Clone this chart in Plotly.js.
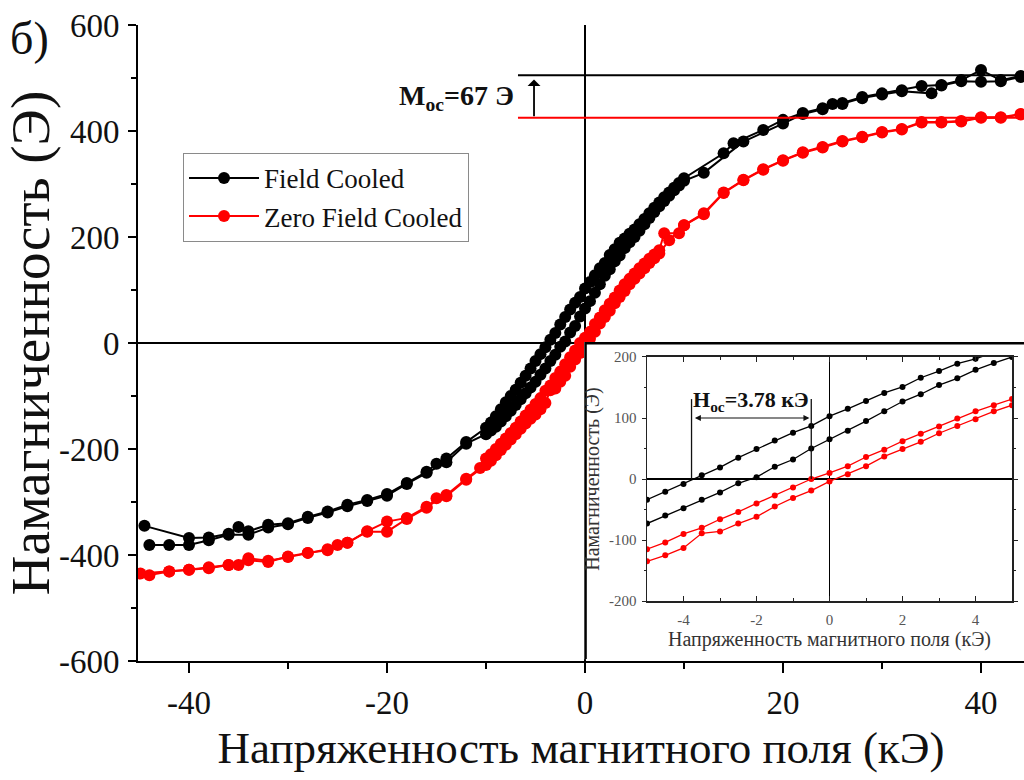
<!DOCTYPE html>
<html>
<head>
<meta charset="utf-8">
<script src="https://cdn.plot.ly/plotly-3.0.1.min.js"></script>
<style>html,body{margin:0;padding:0;overflow:hidden;background:#fff;}#chart{width:1024px;height:780px;}</style>
</head>
<body>
<div id="chart"></div>
<script>
// ---------- Main plot data (field kOe, magnetization) ----------
const fcUpperX = [-44.5,-40,-38,-36,-35,-34,-32,-30,-28,-26,-24,-22,-20,-18,-16,-15,-14,-12,
  -10,-9.5,-9,-8.5,-8,-7.5,-7,-6.5,-6,-5.5,-5,-4.5,-4,-3.5,-3,-2.5,-2,-1.5,-1,-0.5,0,
  0.5,1,1.5,2,2.5,3,3.5,4,4.5,5,5.5,6,6.5,7,7.5,8,8.5,9,9.5,10,
  14,15,18,20,22,24,25,26,28,30,32,34,36,38,40,42,44];
const fcUpperY = [-345,-368,-367,-360,-347,-355,-343,-340,-328,-318,-305,-296,-285,-264,-243,-228,-218,-187,
  -160,-150,-138,-125,-112,-100,-88,-75,-62,-48,-34,-21,-8,6,19,35,49,63,76,87,103,
  115,128,141,151,166,177,189,197,206,214,224,234,245,255,265,275,284,293,302,311,
  358,377,402,421,434,443,451,453,464,471,477,485,487,496,515,496,504];

const fcLowerX = [-44,-42,-40,-38,-36,-34,-32,-30,-28,-26,-24,-22,-20,-18,-16,-14,-12,
  -10,-9.5,-9,-8.5,-8,-7.5,-7,-6.5,-6,-5.5,-5,-4.5,-4,-3.5,-3,-2.5,-2,-1.5,-1,-0.5,0,
  0.5,1,1.5,2,2.5,3,3.5,4,4.5,5,5.5,6,6.5,7,7.5,8,8.5,9,9.5,10,
  12,16,20,22,24,26,28,30,32,35,36,38,40,42,44];
const fcLowerY = [-381,-381,-381,-372,-362,-362,-348,-342,-330,-320,-308,-298,-288,-266,-245,-225,-190,
  -172,-165,-158,-148,-138,-128,-117,-106,-95,-84,-73,-60,-48,-34,-22,-7,3,20,32,50,65,
  79,95,111,127,139,154,165,179,190,200,212,224,236,247,258,268,278,288,297,306,
  321,380,414,432,441,451,462,469,475,471,486,494,493,494,502];

const zfcUpperX = [-44.9,-42,-40,-38,-36,-34,-32,-30,-28,-26,-24,-22,-20,-18,-16,-14,-12,-10.6,
  -10,-9.5,-9,-8.5,-8,-7.5,-7,-6.5,-6,-5.5,-5,-4.5,-4,-3.5,-3,-2.5,-2,-1.5,-1,-0.5,0,
  0.5,1,1.5,2,2.5,3,3.5,4,4.5,5,5.5,6,6.5,7,7.5,
  8,9.5,10,12,14,16,18,20,22,24,26,28,30,32,34,36,38,40,42,44];
const zfcUpperY = [-435,-431,-428,-423,-419,-406,-411,-404,-396,-389,-377,-355,-337,-330,-309,-287,-256,-236,
  -218,-210,-200,-190,-180,-170,-160,-148,-137,-126,-115,-104,-90,-80,-66,-54,-40,-27,-14,0,10,
  21,36,48,62,74,86,99,111,121,131,141,150,159,167,175,
  207,207,222,245,284,308,328,345,360,370,381,389,398,404,417,417,419,426,426,432];

const zfcLowerX = [-44,-42,-40,-38,-36,-35,-34,-32,-30,-28,-26,-25,-24,-22,-20,-18,-16,-15,-14,-12,
  -10,-9.5,-9,-8.5,-8,-7.5,-7,-6.5,-6,-5.5,-5,-4.5,-4,-3.5,-3,-2.5,-2,-1.5,-1,-0.5,0,
  0.5,1,1.5,2,2.5,3,3.5,4,4.5,5,5.5,6,6.5,7,7.5,
  8.5,10,12,14,16,18,20,22,24,26,28,30,32,34,36,38,40,42,44];
const zfcLowerY = [-438,-431,-428,-425,-419,-419,-410,-413,-403,-396,-391,-381,-377,-356,-356,-332,-311,-293,-289,-258,
  -230,-222,-212,-202,-192,-182,-172,-162,-152,-143,-135,-125,-113,-89,-86,-73,-62,-45,-31,-19,-4,
  8,21,37,49,61,75,87,98,111,121,131,141,151,160,169,
  194,222,243,283,307,327,344,359,369,380,388,397,403,416,416,418,425,425,431];

// ---------- Inset data ----------
const insetX = [-5,-4.5,-4,-3.5,-3,-2.5,-2,-1.5,-1,-0.5,0,0.5,1,1.5,2,2.5,3,3.5,4,4.5,5];
const insetFcUpper  = [-34,-21,-8,6,19,35,49,63,76,87,103,115,128,141,151,166,177,189,197,208,218];
const insetFcLower  = [-73,-60,-48,-34,-22,-7,3,20,32,50,65,79,95,111,127,139,154,165,179,190,200];
const insetZfcUpper = [-115,-104,-90,-80,-66,-54,-40,-27,-14,0,10,21,36,48,62,74,86,99,111,121,131];
const insetZfcLower = [-135,-125,-113,-89,-86,-73,-62,-45,-31,-19,-4,8,21,37,49,61,75,87,98,111,121];

// ---------- Tick labels ----------
const mainXTicks = [-40, -20, 0, 20, 40];
const mainXTickText = ['-40', '-20', '0', '20', '40'];
const mainYTicks = [-600, -400, -200, 0, 200, 400, 600];
const mainYTickText = ['-600', '-400', '-200', '0', '200', '400', '600'];
const insetXTicks = [-4, -2, 0, 2, 4];
const insetXTickText = ['-4', '-2', '0', '2', '4'];
const insetYTicks = [-200, -100, 0, 100, 200];
const insetYTickText = ['-200', '-100', '0', '100', '200'];

// ---------- Annotation values ----------
const mFC = 505, mZFC = 425, mocLabel = 'M<sub>oc</sub>=67 Э';
const hLeft = -3.78, hRight = -0.5, hTop = 131, hArrowY = 100, hocLabel = 'H<sub>oc</sub>=3.78 кЭ';
const legendNames = ['Field Cooled', 'Zero Field Cooled'];

const BLACK = '#000000', RED = '#ff0000';
const serif = 'Liberation Serif, Times New Roman, serif';

function mainTrace(x, y, color, name, show) {
  return {x, y, type: 'scatter', mode: 'lines+markers', name, showlegend: show,
    legendgroup: name, xaxis: 'x', yaxis: 'y',
    line: {color, width: 2}, marker: {color, size: 12}, hoverinfo: 'skip'};
}
function insetTrace(y, color) {
  return {x: insetX, y, type: 'scatter', mode: 'lines+markers', showlegend: false,
    xaxis: 'x3', yaxis: 'y3', line: {color, width: 1.3}, marker: {color, size: 6}, hoverinfo: 'skip'};
}

const traces = [
  mainTrace(fcUpperX, fcUpperY, BLACK, legendNames[0], true),
  mainTrace(fcLowerX, fcLowerY, BLACK, legendNames[0], false),
  mainTrace(zfcUpperX, zfcUpperY, RED, legendNames[1], true),
  mainTrace(zfcLowerX, zfcLowerY, RED, legendNames[1], false),
  // white inset panel (subplot x2/y2 sits above main traces)
  {x: [0.35, 130, 130, 0.35, 0.35], y: [-10, -10, 99.6, 99.6, -10], type: 'scatter', mode: 'lines',
   fill: 'toself', fillcolor: '#ffffff', line: {color: BLACK, width: 2.5}, xaxis: 'x2', yaxis: 'y2',
   showlegend: false, hoverinfo: 'skip'},
  insetTrace(insetFcUpper, BLACK),
  insetTrace(insetFcLower, BLACK),
  insetTrace(insetZfcUpper, RED),
  insetTrace(insetZfcLower, RED)
];

const layout = {
  width: 1024, height: 780,
  margin: {l: 138, r: 0, t: 25, b: 119},
  paper_bgcolor: '#ffffff', plot_bgcolor: '#ffffff',
  font: {family: serif, color: BLACK},
  showlegend: true,
  legend: {x: 0.0508, y: 0.799, xanchor: 'left', yanchor: 'top', bgcolor: '#ffffff',
    bordercolor: '#8a8a8a', borderwidth: 1, font: {family: serif, size: 27, color: '#111'},
    itemwidth: 70, tracegroupgap: 0},
  xaxis: {range: [-45.15, 44.34], domain: [0, 1], anchor: 'y', showgrid: false,
    zeroline: true, zerolinecolor: BLACK, zerolinewidth: 1.5,
    showline: true, linecolor: BLACK, linewidth: 2,
    ticks: 'outside', ticklen: 10, tickwidth: 2, tickcolor: BLACK,
    tickmode: 'array', tickvals: mainXTicks, ticktext: mainXTickText,
    minor: {dtick: 10, tick0: 0, ticks: 'outside', ticklen: 6, tickwidth: 2, tickcolor: BLACK},
    tickfont: {family: serif, size: 33, color: '#111'}, ticklabelstandoff: 1,
    title: {text: 'Напряженность магнитного поля (кЭ)', font: {family: serif, size: 45, color: '#111'}, standoff: 12},
    automargin: false},
  yaxis: {range: [-600, 600], domain: [0, 1], anchor: 'x', showgrid: false,
    zeroline: true, zerolinecolor: BLACK, zerolinewidth: 1.5,
    showline: true, linecolor: BLACK, linewidth: 2,
    ticks: 'outside', ticklen: 8, tickwidth: 2, tickcolor: BLACK,
    tickmode: 'array', tickvals: mainYTicks, ticktext: mainYTickText,
    minor: {dtick: 100, tick0: 0, ticks: 'outside', ticklen: 5, tickwidth: 2, tickcolor: BLACK},
    tickfont: {family: serif, size: 33, color: '#111'}, ticklabelstandoff: 2,
    title: {text: 'Намагниченность (Э)', font: {family: serif, size: 55, color: '#111'}, standoff: 4},
    automargin: false},
  // white panel subplot
  xaxis2: {domain: [0.5034, 1], range: [0, 100], anchor: 'y2', visible: false, fixedrange: true},
  yaxis2: {domain: [0.003, 0.5016], range: [0, 100], anchor: 'x2', visible: false, fixedrange: true},
  // inset subplot
  xaxis3: {domain: [0.5745, 0.9865], range: [-5, 5], anchor: 'y3', showgrid: false,
    zeroline: true, zerolinecolor: BLACK, zerolinewidth: 1.5,
    showline: true, mirror: 'allticks', linecolor: '#222', linewidth: 1.5,
    ticks: 'inside', ticklen: 5, tickcolor: '#222',
    tickmode: 'array', tickvals: insetXTicks, ticktext: insetXTickText,
    minor: {dtick: 1, tick0: 0, ticks: 'inside', ticklen: 3, tickcolor: '#222'},
    tickfont: {family: serif, size: 15, color: '#555'}, ticklabelstandoff: 4,
    title: {text: 'Напряженность магнитного поля (кЭ)', font: {family: serif, size: 20, color: '#333'}, standoff: 4}},
  yaxis3: {domain: [0.0943, 0.478], range: [-200, 200], anchor: 'x3', showgrid: false,
    zeroline: true, zerolinecolor: BLACK, zerolinewidth: 1.5,
    showline: true, mirror: 'allticks', linecolor: '#222', linewidth: 1.5,
    ticks: 'outside', ticklen: 4, tickcolor: '#222',
    tickmode: 'array', tickvals: insetYTicks, ticktext: insetYTickText,
    minor: {dtick: 50, tick0: 0, ticks: 'outside', ticklen: 2, tickcolor: '#222'},
    tickfont: {family: serif, size: 15, color: '#555'}, ticklabelstandoff: 2,
    title: {text: 'Намагниченность (Э)', font: {family: serif, size: 20, color: '#333'}, standoff: 4}},
  shapes: [
    {type: 'line', xref: 'x', yref: 'y', x0: -6.77, x1: 60, y0: mFC, y1: mFC, line: {color: BLACK, width: 2}},
    {type: 'line', xref: 'x', yref: 'y', x0: -6.77, x1: 60, y0: mZFC, y1: mZFC, line: {color: RED, width: 2}},
    {type: 'line', xref: 'x3', yref: 'y3', x0: hLeft, x1: hLeft, y0: 0, y1: hTop, line: {color: '#111', width: 1.3}},
    {type: 'line', xref: 'x3', yref: 'y3', x0: hRight, x1: hRight, y0: 0, y1: hTop, line: {color: '#111', width: 1.3}}
  ],
  annotations: [
    {xref: 'paper', yref: 'paper', x: -0.122, y: 0.978, text: 'б)', showarrow: false,
      xanchor: 'center', yanchor: 'middle', font: {family: serif, size: 46, color: '#111'}},
    {xref: 'x', yref: 'y', x: -5.15, y: mFC - 8, ax: -5.15, ay: mZFC, axref: 'x', ayref: 'y',
      text: '', showarrow: true, arrowhead: 1, arrowsize: 1.2, arrowwidth: 1.8, arrowcolor: BLACK},
    {xref: 'x', yref: 'y', x: -7.0, y: 464, text: '<b>' + mocLabel + '</b>', showarrow: false,
      xanchor: 'right', yanchor: 'middle', font: {family: serif, size: 28, color: '#111'}},
    {xref: 'x3', yref: 'y3', x: hRight - 0.05, y: hArrowY, ax: hLeft + 0.05, ay: hArrowY, axref: 'x3', ayref: 'y3',
      text: '', showarrow: true, arrowhead: 2, arrowside: 'end+start', arrowsize: 1, arrowwidth: 1.2, arrowcolor: '#111'},
    {xref: 'x3', yref: 'y3', x: (hLeft + hRight) / 2, y: 128, text: '<b>' + hocLabel + '</b>', showarrow: false,
      xanchor: 'center', yanchor: 'middle', font: {family: serif, size: 22, color: '#111'}}
  ]
};

Plotly.newPlot('chart', traces, layout, {displayModeBar: false, staticPlot: true});
</script>
</body>
</html>
